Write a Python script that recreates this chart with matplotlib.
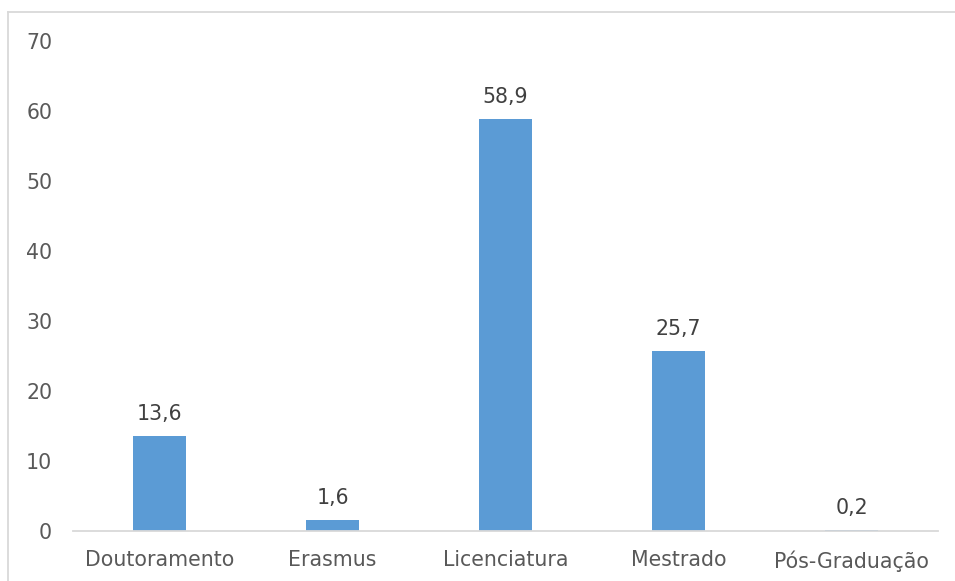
#!/usr/bin/env python3
"""Bar chart: distribution by degree type."""

import matplotlib

matplotlib.use("Agg")
import matplotlib.pyplot as plt
from matplotlib.lines import Line2D

CATEGORIES = ["Doutoramento", "Erasmus", "Licenciatura", "Mestrado", "Pós-Graduação"]
VALUES = [13.6, 1.6, 58.9, 25.7, 0.2]
Y_TICKS = [0, 10, 20, 30, 40, 50, 60, 70]

BAR_COLOR = "#5B9BD5"
TICK_COLOR = "#595959"
LABEL_COLOR = "#404040"
LINE_COLOR = "#D9D9D9"
FONT_SIZE = 14.8


def main() -> None:
    fig = plt.figure(figsize=(9.55, 5.81), dpi=100)
    W, H = 955, 581
    ax = fig.add_axes([73 / W, 1 - 531 / H, (938 - 73) / W, (531 - 41) / H])

    x = list(range(len(CATEGORIES)))
    bars = ax.bar(x, VALUES, width=0.31, color=BAR_COLOR, zorder=2)
    for rect, val in zip(bars, VALUES):
        ax.annotate(
            f"{val:.1f}".replace(".", ","),
            (rect.get_x() + rect.get_width() / 2, rect.get_height()),
            xytext=(0, 8.5),
            textcoords="offset points",
            ha="center",
            va="bottom",
            fontsize=FONT_SIZE,
            color=LABEL_COLOR,
        )

    ax.set_xlim(-0.5, len(CATEGORIES) - 0.5)
    ax.set_ylim(0, 70)
    ax.set_yticks(Y_TICKS)
    ax.set_xticks(x)
    ax.set_xticklabels(CATEGORIES)
    ax.tick_params(axis="both", length=0, labelsize=FONT_SIZE, labelcolor=TICK_COLOR)
    ax.tick_params(axis="y", pad=15)
    ax.tick_params(axis="x", pad=14)
    for side in ("top", "right", "left"):
        ax.spines[side].set_visible(False)
    ax.spines["bottom"].set_color(LINE_COLOR)
    ax.spines["bottom"].set_linewidth(1.3)

    # chart frame (cropped at right/bottom)
    fig.add_artist(Line2D([8 / W, 1], [1 - 12 / H, 1 - 12 / H], color=LINE_COLOR, lw=1.3, transform=fig.transFigure))
    fig.add_artist(Line2D([8 / W, 8 / W], [0, 1 - 12 / H], color=LINE_COLOR, lw=1.3, transform=fig.transFigure))

    fig.savefig("out.png", dpi=100)
    plt.close(fig)


if __name__ == "__main__":
    main()
